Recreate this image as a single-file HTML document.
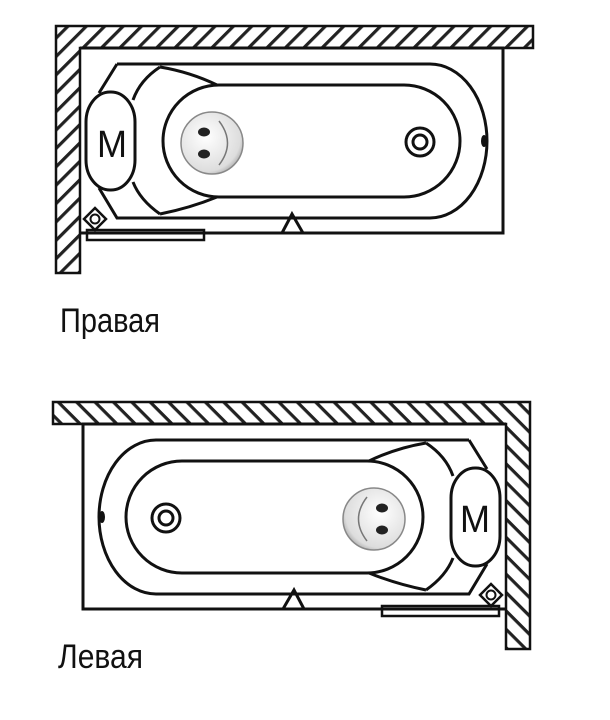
<!DOCTYPE html>
<html><head><meta charset="utf-8"><style>
html,body{margin:0;padding:0;background:#fff;}
svg{display:block}
text{font-family:"Liberation Sans",sans-serif;}
</style></head><body>
<svg width="610" height="720" viewBox="0 0 610 720" xmlns="http://www.w3.org/2000/svg">
<defs>
<pattern id="h" patternUnits="userSpaceOnUse" width="13" height="13" patternTransform="rotate(45)">
<rect width="13" height="13" fill="#fff"/><rect x="0" y="0" width="3.2" height="13" fill="#222"/>
</pattern>
<radialGradient id="g" cx="0.4" cy="0.4" r="0.7"><stop offset="0" stop-color="#fff"/><stop offset="0.8" stop-color="#ddd"/><stop offset="1" stop-color="#999"/></radialGradient>
<g id="tub" fill="none" stroke="#111" stroke-width="3">
<path d="M56 26 H533 V48 H80 V273 H56 Z" fill="url(#h)" stroke-width="2.5"/>
<path d="M80 48 H503 V233 H80"/>
<path d="M117 64 H430 A57 77 0 0 1 430 218 H117 L99 188 M99 93 L117 64"/>
<rect x="163" y="85" width="297" height="112" rx="56" ry="56"/>
<path d="M160 67 Q190 72 217 85 M160 214 Q190 208 217 197"/>
<path d="M160 67 Q140 80 133 100 M133 182 Q140 200 160 214"/>
<rect x="86" y="92" width="49" height="98" rx="24" ry="30"/>
<circle cx="212" cy="143" r="31" fill="url(#g)" stroke="#888" stroke-width="1.5"/>
<ellipse cx="204" cy="132" rx="6" ry="4.5" fill="#222" stroke="none"/>
<ellipse cx="204" cy="154" rx="6" ry="4.5" fill="#222" stroke="none"/>
<path d="M219 121 Q236 143 219 165" stroke="#777" stroke-width="1.5"/>
<circle cx="420" cy="142" r="14"/>
<circle cx="420" cy="142" r="7"/>
<ellipse cx="484" cy="141" rx="3" ry="6" fill="#111" stroke="none"/>
<path d="M282 233 L292 214 L303 233 Z"/>
<rect x="87" y="230" width="117" height="10" stroke-width="2.5"/>
<path d="M95 208 L106 219 L95 230 L84 219 Z" stroke-width="2.5"/>
<circle cx="95" cy="219" r="4.5" stroke-width="2"/>
</g>
</defs>
<use href="#tub"/>
<text x="97" y="157" font-size="38" textLength="30" lengthAdjust="spacingAndGlyphs" fill="#111">M</text>
<text x="60" y="332" font-size="34" textLength="100" lengthAdjust="spacingAndGlyphs" fill="#111">Правая</text>
<g transform="translate(586,376) scale(-1,1)"><use href="#tub"/></g>
<text x="460" y="532" font-size="38" textLength="30" lengthAdjust="spacingAndGlyphs" fill="#111">M</text>
<text x="58" y="668" font-size="34" textLength="85" lengthAdjust="spacingAndGlyphs" fill="#111">Левая</text>
</svg>
</body></html>
